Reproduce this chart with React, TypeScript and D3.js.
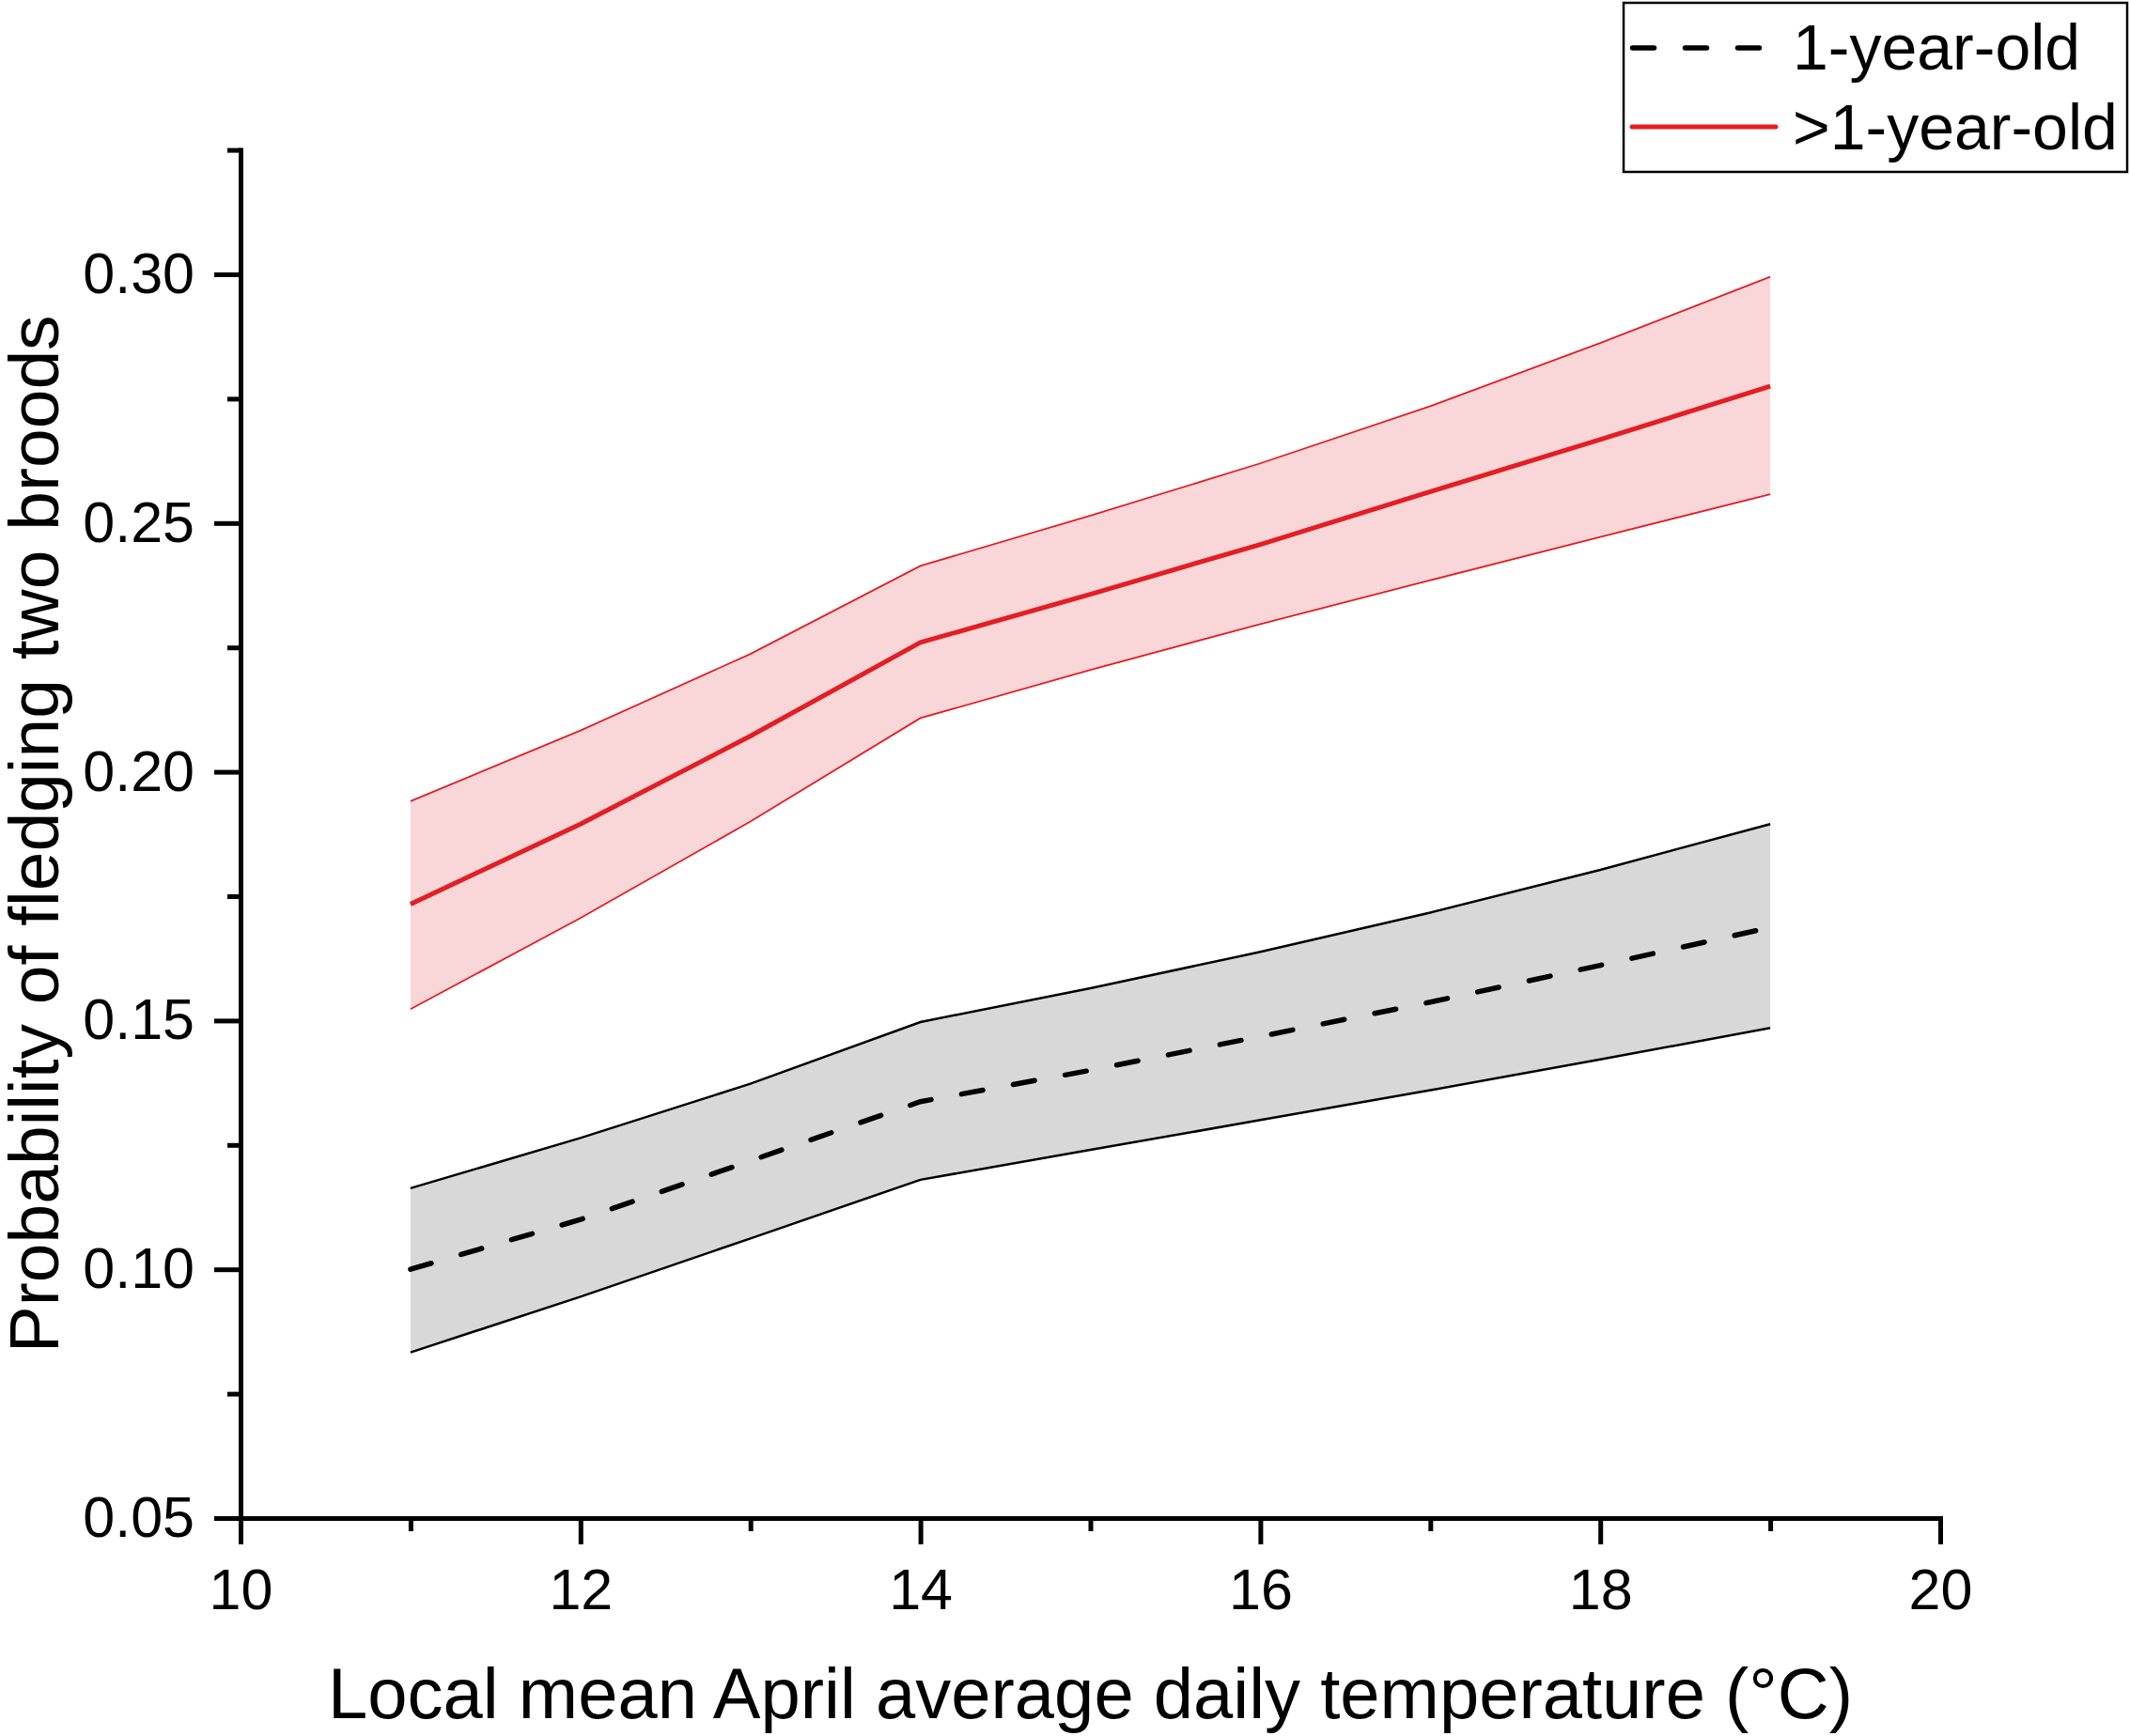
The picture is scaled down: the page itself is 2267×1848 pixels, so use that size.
import React, { useEffect, useRef } from "react";
import * as d3 from "d3";

// temperature (°C) at which the model was evaluated
const temperature = [11, 12, 13, 14, 15, 16, 17, 18, 19];

// 1-year-old birds
const yearlingMean = [0.1, 0.11, 0.1218, 0.1337, 0.14, 0.1468, 0.1537, 0.1611, 0.1687];
const yearlingLow = [0.0833, 0.0945, 0.1062, 0.118, 0.124, 0.13, 0.136, 0.1422, 0.1485];
const yearlingHigh = [0.1163, 0.1264, 0.1373, 0.1497, 0.1565, 0.1638, 0.1717, 0.1803, 0.1895];

// >1-year-old birds
const adultMean = [0.1734, 0.1895, 0.2072, 0.226, 0.2357, 0.2457, 0.2563, 0.2668, 0.2775];
const adultLow = [0.1523, 0.1706, 0.19, 0.2108, 0.2205, 0.2297, 0.2385, 0.2472, 0.2558];
const adultHigh = [0.1941, 0.2083, 0.2237, 0.2414, 0.2515, 0.262, 0.2735, 0.2862, 0.2995];

const xTicks = [10, 12, 14, 16, 18, 20];
const xMinorTicks = [11, 13, 15, 17, 19];
const yTicks = [0.05, 0.1, 0.15, 0.2, 0.25, 0.3];
const yMinorTicks = [0.075, 0.125, 0.175, 0.225, 0.275, 0.325];
const seriesLabels = ["1-year-old", ">1-year-old"];

const width = 2267;
const height = 1848;
const font = "'Liberation Sans', Arial, Helvetica, sans-serif";
const red = "#e31e24";

export default function App() {
  const svgRef = useRef(null);

  useEffect(() => {
    const svg = d3.select(svgRef.current);
    svg.selectAll("*").remove();

    const x = d3.scaleLinear().domain([10, 20]).range([256, 2065]);
    const y = d3.scaleLinear().domain([0.05, 0.325]).range([1616, 159.6]);

    const rows = (mean, low, high) =>
      temperature.map((t, i) => ({ t, mean: mean[i], low: low[i], high: high[i] }));
    const yearling = rows(yearlingMean, yearlingLow, yearlingHigh);
    const adult = rows(adultMean, adultLow, adultHigh);

    const band = d3
      .area()
      .x((d) => x(d.t))
      .y0((d) => y(d.low))
      .y1((d) => y(d.high));
    const lineOf = (key) =>
      d3
        .line()
        .x((d) => x(d.t))
        .y((d) => y(d[key]));

    // 1-year-old band + lines
    svg.append("path").datum(yearling).attr("fill", "#d8d8d8").attr("d", band);
    ["low", "high"].forEach((k) =>
      svg
        .append("path")
        .datum(yearling)
        .attr("fill", "none")
        .attr("stroke", "#000")
        .attr("stroke-width", 2.5)
        .attr("d", lineOf(k))
    );
    svg
      .append("path")
      .datum(yearling)
      .attr("fill", "none")
      .attr("stroke", "#000")
      .attr("stroke-width", 5.5)
      .attr("stroke-linecap", "round")
      .attr("stroke-dasharray", "23 33")
      .attr("d", lineOf("mean"));

    // >1-year-old band + lines
    svg.append("path").datum(adult).attr("fill", "#f9d6d8").attr("d", band);
    ["low", "high"].forEach((k) =>
      svg
        .append("path")
        .datum(adult)
        .attr("fill", "none")
        .attr("stroke", red)
        .attr("stroke-width", 1.8)
        .attr("d", lineOf(k))
    );
    svg
      .append("path")
      .datum(adult)
      .attr("fill", "none")
      .attr("stroke", red)
      .attr("stroke-width", 5)
      .attr("stroke-linejoin", "round")
      .attr("d", lineOf("mean"));

    // axes
    const styleAxis = (g) => {
      g.select(".domain").attr("stroke-width", 5).attr("stroke-linecap", "square");
      g.selectAll(".tick line").attr("stroke-width", 5);
      g.selectAll("text").attr("font-family", font).attr("font-size", 61).attr("fill", "#000");
    };

    svg
      .append("g")
      .attr("transform", "translate(0,1616)")
      .call(d3.axisBottom(x).tickValues(xMinorTicks).tickSize(14).tickSizeOuter(0).tickFormat(() => ""))
      .call((g) => g.select(".domain").remove())
      .call(styleAxis);
    svg
      .append("g")
      .attr("transform", "translate(0,1616)")
      .call(d3.axisBottom(x).tickValues(xTicks).tickSize(28).tickSizeOuter(0).tickPadding(26).tickFormat(d3.format("d")))
      .call(styleAxis);

    svg
      .append("g")
      .attr("transform", "translate(256,0)")
      .call(d3.axisLeft(y).tickValues(yMinorTicks).tickSize(14).tickSizeOuter(0).tickFormat(() => ""))
      .call((g) => g.select(".domain").remove())
      .call(styleAxis);
    svg
      .append("g")
      .attr("transform", "translate(256,0)")
      .call(d3.axisLeft(y).tickValues(yTicks).tickSize(28).tickSizeOuter(0).tickPadding(21).tickFormat(d3.format(".2f")))
      .call(styleAxis);

    // axis titles
    svg
      .append("text")
      .attr("x", (x(10) + x(20)) / 2)
      .attr("y", 1829)
      .attr("text-anchor", "middle")
      .attr("font-family", font)
      .attr("font-size", 76)
      .text("Local mean April average daily temperature (°C)");
    svg
      .append("text")
      .attr("transform", `translate(62,${(y(0.05) + y(0.325)) / 2}) rotate(-90)`)
      .attr("text-anchor", "middle")
      .attr("font-family", font)
      .attr("font-size", 75)
      .text("Probability of fledging two broods");

    // legend
    const legend = svg.append("g");
    legend
      .append("rect")
      .attr("x", 1728)
      .attr("y", 3)
      .attr("width", 536)
      .attr("height", 180)
      .attr("fill", "#fff")
      .attr("stroke", "#000")
      .attr("stroke-width", 2.5);
    legend
      .append("line")
      .attr("x1", 1737.5)
      .attr("x2", 1874)
      .attr("y1", 51)
      .attr("y2", 51)
      .attr("stroke", "#000")
      .attr("stroke-width", 5.5)
      .attr("stroke-linecap", "round")
      .attr("stroke-dasharray", "23 33");
    legend
      .append("line")
      .attr("x1", 1737)
      .attr("x2", 1890)
      .attr("y1", 135)
      .attr("y2", 135)
      .attr("stroke", red)
      .attr("stroke-width", 5)
      .attr("stroke-linecap", "round");
    legend
      .selectAll("text.item")
      .data(seriesLabels)
      .join("text")
      .attr("class", "item")
      .attr("x", 1908)
      .attr("y", (d, i) => [74, 159][i])
      .attr("font-family", font)
      .attr("font-size", 68)
      .text((d) => d);
  }, []);

  return (
    <svg
      ref={svgRef}
      width={width}
      height={height}
      style={{ position: "absolute", left: 0, top: 0, background: "#fff" }}
    />
  );
}
